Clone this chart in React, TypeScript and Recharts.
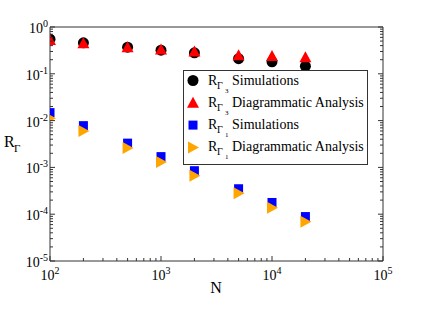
import React from 'react';
import { ScatterChart, Scatter, XAxis, YAxis } from 'recharts';

const N = [100, 200, 500, 1000, 2000, 5000, 10000, 20000];
const r3Sim = [0.55, 0.46, 0.37, 0.32, 0.28, 0.21, 0.18, 0.145];
const r3Diag = [0.53, 0.45, 0.37, 0.33, 0.30, 0.25, 0.24, 0.225];
const r1Sim = [0.0148, 0.0078, 0.0033, 0.0017, 0.00085, 0.00035, 0.000178, 0.000089];
const r1Diag = [0.0112, 0.006, 0.0026, 0.0013, 0.00066, 0.00028, 0.000138, 0.000069];

const xMajor = [100, 1000, 10000, 100000];
const xMajorLabels = ['2', '3', '4', '5'];
const yMajor = [1e-5, 1e-4, 1e-3, 1e-2, 1e-1, 1];
const yMajorLabels = ['-5', '-4', '-3', '-2', '-1', '0'];
const minorMult = [2, 3, 4, 5, 6, 7, 8, 9];

const legendItems = [
  { sub: '3', text: 'Simulations' },
  { sub: '3', text: 'Diagrammatic Analysis' },
  { sub: '1', text: 'Simulations' },
  { sub: '1', text: 'Diagrammatic Analysis' },
];

const withMinor = (majors: number[]) => {
  const out: number[] = [];
  majors.forEach((m, i) => {
    out.push(m);
    if (i < majors.length - 1) minorMult.forEach((k) => out.push(m * k));
  });
  return out;
};
const xTicks = withMinor(xMajor);
const yTicks = withMinor(yMajor);

const majorIndex = (v: number, majors: number[]) =>
  majors.findIndex((m) => Math.abs(Math.log10(v) - Math.log10(m)) < 1e-6);

const toData = (ys: number[]) => N.map((n, i) => ({ x: n, y: ys[i] }));

const FONT = 'Liberation Serif, DejaVu Serif, serif';
const AX = '#333';

const BottomTick = (p: any) => {
  const { x, y, payload } = p;
  const mi = majorIndex(payload.value, xMajor);
  const major = mi >= 0;
  return (
    <g>
      <line x1={x} x2={x} y1={y} y2={y - (major ? 5 : 3)} stroke={AX} strokeWidth={1} />
      {major && (
        <text x={x} y={y + 19} textAnchor="middle" fontFamily={FONT} fontSize={14} fill="#000">
          10<tspan dy={-6} fontSize={10}>{xMajorLabels[mi]}</tspan>
        </text>
      )}
    </g>
  );
};
const TopTick = (p: any) => {
  const { x, y, payload } = p;
  const major = majorIndex(payload.value, xMajor) >= 0;
  return <line x1={x} x2={x} y1={y} y2={y + (major ? 5 : 3)} stroke={AX} strokeWidth={1} />;
};
const LeftTick = (p: any) => {
  const { x, y, payload } = p;
  const mi = majorIndex(payload.value, yMajor);
  const major = mi >= 0;
  return (
    <g>
      <line x1={x} x2={x + (major ? 5 : 3)} y1={y} y2={y} stroke={AX} strokeWidth={1} />
      {major && (
        <text x={x - 2} y={y + 6} textAnchor="end" fontFamily={FONT} fontSize={14} fill="#000">
          10<tspan dy={-6} fontSize={10}>{yMajorLabels[mi]}</tspan>
        </text>
      )}
    </g>
  );
};
const RightTick = (p: any) => {
  const { x, y, payload } = p;
  const major = majorIndex(payload.value, yMajor) >= 0;
  return <line x1={x} x2={x - (major ? 5 : 3)} y1={y} y2={y} stroke={AX} strokeWidth={1} />;
};

const Circle = (p: any) => <circle cx={p.cx} cy={p.cy} r={5.5} fill="#000" />;
const TriUp = (p: any) => (
  <polygon points={`${p.cx},${p.cy - 6} ${p.cx - 6},${p.cy + 5} ${p.cx + 6},${p.cy + 5}`} fill="#ff0000" />
);
const Square = (p: any) => <rect x={p.cx - 4.5} y={p.cy - 4.5} width={9} height={9} fill="#0000ff" />;
const TriRight = (p: any) => (
  <polygon points={`${p.cx + 6},${p.cy} ${p.cx - 5},${p.cy - 6} ${p.cx - 5},${p.cy + 6}`} fill="#ffa500" />
);

const legendShapes = [
  (cx: number, cy: number) => <circle cx={cx} cy={cy} r={5.5} fill="#000" />,
  (cx: number, cy: number) => (
    <polygon points={`${cx},${cy - 6} ${cx - 6},${cy + 5} ${cx + 6},${cy + 5}`} fill="#ff0000" />
  ),
  (cx: number, cy: number) => <rect x={cx - 4.5} y={cy - 4.5} width={9} height={9} fill="#0000ff" />,
  (cx: number, cy: number) => (
    <polygon points={`${cx + 6},${cy} ${cx - 5},${cy - 6} ${cx - 5},${cy + 6}`} fill="#ffa500" />
  ),
];

export default function App() {
  return (
    <div style={{ position: 'absolute', left: 0, top: 0, width: 443, height: 311, background: '#fff' }}>
      <ScatterChart width={443} height={311} margin={{ top: 26, right: 59, bottom: 49, left: 49 }}>
        <XAxis
          xAxisId="b"
          dataKey="x"
          type="number"
          scale="log"
          domain={[100, 100000]}
          allowDataOverflow
          ticks={xTicks}
          interval={0}
          height={1}
          tickSize={0}
          tickMargin={0}
          tickLine={false}
          axisLine={{ stroke: AX, strokeWidth: 1 }}
          tick={<BottomTick />}
        />
        <XAxis
          xAxisId="t"
          orientation="top"
          type="number"
          scale="log"
          domain={[100, 100000]}
          allowDataOverflow
          ticks={xTicks}
          interval={0}
          height={1}
          tickSize={0}
          tickMargin={0}
          tickLine={false}
          axisLine={{ stroke: AX, strokeWidth: 1 }}
          tick={<TopTick />}
        />
        <YAxis
          yAxisId="l"
          dataKey="y"
          type="number"
          scale="log"
          domain={[1e-5, 1]}
          allowDataOverflow
          ticks={yTicks}
          interval={0}
          width={1}
          tickSize={0}
          tickMargin={0}
          tickLine={false}
          axisLine={{ stroke: AX, strokeWidth: 1 }}
          tick={<LeftTick />}
        />
        <YAxis
          yAxisId="r"
          orientation="right"
          type="number"
          scale="log"
          domain={[1e-5, 1]}
          allowDataOverflow
          ticks={yTicks}
          interval={0}
          width={1}
          tickSize={0}
          tickMargin={0}
          tickLine={false}
          axisLine={{ stroke: AX, strokeWidth: 1 }}
          tick={<RightTick />}
        />
        <Scatter xAxisId="b" yAxisId="l" data={toData(r3Sim)} shape={<Circle />} isAnimationActive={false} />
        <Scatter xAxisId="b" yAxisId="l" data={toData(r3Diag)} shape={<TriUp />} isAnimationActive={false} />
        <Scatter xAxisId="b" yAxisId="l" data={toData(r1Sim)} shape={<Square />} isAnimationActive={false} />
        <Scatter xAxisId="b" yAxisId="l" data={toData(r1Diag)} shape={<TriRight />} isAnimationActive={false} />
      </ScatterChart>
      <svg width={443} height={311} style={{ position: 'absolute', left: 0, top: 0, pointerEvents: 'none' }}>
        <rect x={183.5} y={70.5} width={184} height={94} fill="#fff" stroke={AX} strokeWidth={1} />
        {legendItems.map((it, i) => {
          const by = 84.5 + i * 22.3;
          return (
            <g key={i}>
              {legendShapes[i](193, by - 4)}
              <text fontFamily={FONT} fontSize={14} fill="#000">
                <tspan x={208} y={by}>R</tspan>
                <tspan x={217} y={by + 4} fontSize={10}>Γ</tspan>
                <tspan x={225} y={by + 8} fontSize={7}>{it.sub}</tspan>
                <tspan x={232} y={by}>{it.text}</tspan>
              </text>
            </g>
          );
        })}
        <text fontFamily={FONT} fontSize={16} fill="#000">
          <tspan x={4} y={147}>R</tspan>
          <tspan x={14} y={152} fontSize={11}>Γ</tspan>
        </text>
        <text x={216} y={293} textAnchor="middle" fontFamily={FONT} fontSize={16} fill="#000">N</text>
      </svg>
    </div>
  );
}
